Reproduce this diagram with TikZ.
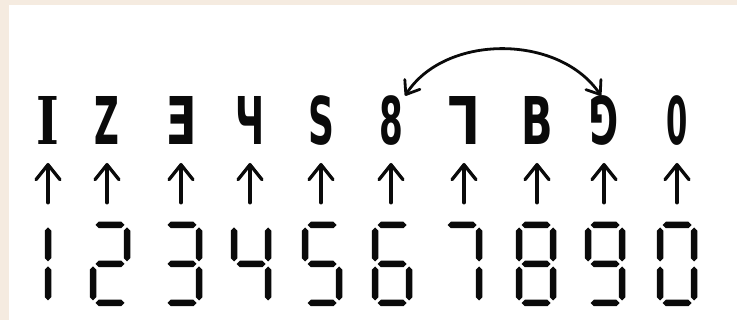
\documentclass[tikz,border=0pt]{standalone}
\usepackage{fontspec}
\usepackage{graphicx}
\newfontfamily\gfont{DejaVu Sans}
\newfontfamily\gserif{DejaVu Serif}
\usetikzlibrary{arrows.meta}
\definecolor{paper}{RGB}{245,235,224}
\definecolor{ink}{RGB}{10,10,10}
% glyph scaling: horizontal factor, fixed vertical factor
\newcommand\myglyph[2]{\scalebox{#1}[1.83]{#2}}
% seven-segment pieces (pixel units, y downwards)
\newcommand\mysegh[2]{\fill[seg] ({#1-14.5},#2) -- ({#1-11.25},{#2-3.25}) -- ({#1+11.25},{#2-3.25}) -- ({#1+14.5},#2) -- ({#1+11.25},{#2+3.25}) -- ({#1-11.25},{#2+3.25}) -- cycle;}
\newcommand\mysegv[3]{\fill[seg] (#1,#2) -- ({#1+3.25},{#2+3.25}) -- ({#1+3.25},{#3-3.25}) -- (#1,#3) -- ({#1-3.25},{#3-3.25}) -- ({#1-3.25},{#2+3.25}) -- cycle;}
\newcommand\segA[1]{\mysegh{#1}{225}}
\newcommand\segG[1]{\mysegh{#1}{264}}
\newcommand\segD[1]{\mysegh{#1}{303}}
\newcommand\segF[1]{\mysegv{#1-17}{227.5}{261.5}}
\newcommand\segE[1]{\mysegv{#1-17}{266.5}{300.5}}
\newcommand\segB[1]{\mysegv{#1+17}{227.5}{261.5}}
\newcommand\segC[1]{\mysegv{#1+17}{266.5}{300.5}}
\newcommand\mydigit[2]{\foreach \s in {#2}{\csname seg\s\endcsname{#1}}}
\begin{document}
\begin{tikzpicture}[x=1pt,y=-1pt,
  seg/.style={fill=ink},
  glyph/.style={inner sep=0pt, anchor=south, text=ink, text depth=0pt,
    font=\gfont\bfseries\fontsize{36}{36}\selectfont},
  digitbox/.style={inner sep=0pt, minimum width=40pt, minimum height=82pt},
  uparrow/.style={draw=ink, line width=3.3pt, line cap=round,
    -{Straight Barb[length=15pt,width=24pt,round]},
    shorten <=20pt, shorten >=18pt},
  swaparrow/.style={draw=ink, line width=2.8pt, line cap=round,
    {Straight Barb[length=12pt,width=18pt,round]}-{Straight Barb[length=12pt,width=18pt,round]}}
]
\useasboundingbox (0,0) rectangle (737,320);
\fill[paper] (0,0) rectangle (737,320);
\fill[white] (8.5,5) rectangle (737,320);

% top row glyphs
\node[glyph] (g1) at (48,145) {\gserif\bfseries\myglyph{1.35}{I}};
\node[glyph] (g2) at (107,145) {\myglyph{0.95}{Z}};
\node[glyph] (g3) at (181,145) {\myglyph{1.25}{Ǝ}};
\node[glyph] (g4) at (250,145) {\myglyph{1.0}{Ч}};
\node[glyph] (g5) at (321,145) {\myglyph{1.0}{S}};
\node[glyph] (g6) at (391,145) {\myglyph{0.95}{8}};
\node[glyph] (g7) at (464,145) {\myglyph{1.4}{\rotatebox[origin=c]{180}{L}}};
\node[glyph] (g8) at (537,145) {\myglyph{1.15}{B}};
\node[glyph] (g9) at (604,145) {\myglyph{1.0}{\rotatebox[origin=c]{180}{G}}};
\node[glyph] (g10) at (677,145) {\myglyph{0.85}{0}};

% bottom row: seven-segment digits
\node[digitbox] (d1) at (48,264) {};
\node[digitbox] (d2) at (107,264) {};
\node[digitbox] (d3) at (181,264) {};
\node[digitbox] (d4) at (250,264) {};
\node[digitbox] (d5) at (321,264) {};
\node[digitbox] (d6) at (391,264) {};
\node[digitbox] (d7) at (464,264) {};
\node[digitbox] (d8) at (537,264) {};
\node[digitbox] (d9) at (604,264) {};
\node[digitbox] (d10) at (677,264) {};

\mydigit{31}{B,C}
\mydigit{110}{A,B,G,E,D}
\mydigit{182}{A,B,G,C,D}
\mydigit{251}{F,B,G,C}
\mydigit{322}{A,F,G,C,D}
\mydigit{392}{A,F,G,E,C,D}
\mydigit{462}{A,B,C}
\mydigit{536}{A,B,C,D,E,F,G}
\mydigit{605}{A,F,B,G,C,D}
\mydigit{677}{A,B,C,D,E,F}

% arrows
\foreach \i in {1,...,10}{\draw[uparrow] (d\i.north) -- (g\i.south);}

% swap arrow between 6 and 9 glyphs
\draw[swaparrow] ([xshift=2pt]g6.north east) .. controls +(40,-62) and +(-42,-62) .. ([xshift=-3pt]g9.north);
\end{tikzpicture}
\end{document}
